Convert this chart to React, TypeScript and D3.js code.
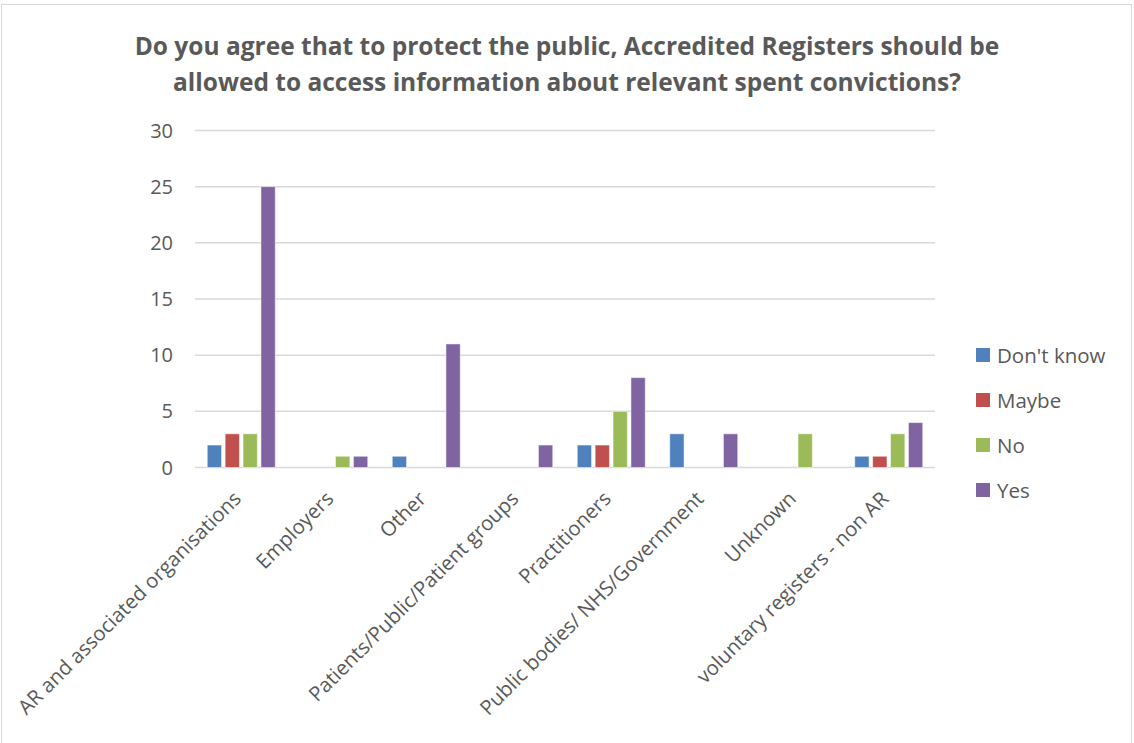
import React from "react";
import * as d3 from "d3";

const categories = [
  "AR and associated organisations",
  "Employers",
  "Other",
  "Patients/Public/Patient groups",
  "Practitioners",
  "Public bodies/ NHS/Government",
  "Unknown",
  "voluntary registers - non AR",
];
const seriesNames = ["Don't know", "Maybe", "No", "Yes"];
const dontKnow = [2, 0, 1, 0, 2, 3, 0, 1];
const maybe = [3, 0, 0, 0, 2, 0, 0, 1];
const no = [3, 1, 0, 0, 5, 0, 3, 3];
const yes = [25, 1, 11, 2, 8, 3, 0, 4];
const yTicks = [0, 5, 10, 15, 20, 25, 30];
const colors = ["#4F81BD", "#C0504D", "#9BBB59", "#8064A2"];
const titleLines = [
  "Do you agree that to protect the public, Accredited Registers should be",
  "allowed to access information about relevant spent convictions?",
];

export default function App() {
  const W = 1134, H = 743;
  const left = 195, right = 935, top = 130.5, bottom = 467.5;
  const series = [dontKnow, maybe, no, yes];
  const x = d3.scaleBand().domain(categories).range([left, right]).paddingInner(0).paddingOuter(0);
  const y = d3.scaleLinear().domain([0, 30]).range([bottom, top]);
  const inner = d3.scaleBand().domain(seriesNames).range([0, 68]).paddingInner(0.2);
  const groupOffset = (x.bandwidth() - 68) / 2;
  const font = "'Open Sans', 'Liberation Sans', sans-serif";
  return (
    <svg width={W} height={H} style={{ position: "absolute", left: 0, top: 0 }} fontFamily={font}>
      <rect x={0} y={0} width={W} height={H} fill="#fff" />
      <rect x={1.5} y={4.5} width={W - 4} height={H + 10} fill="none" stroke="#d9d9d9" strokeWidth={1} />
      {titleLines.map((t, i) => (
        <text key={i} x={567} y={55 + i * 36} textAnchor="middle" fontSize={24.5} fontWeight="bold" fill="#595959">
          {t}
        </text>
      ))}
      {yTicks.map((t) => (
        <g key={t}>
          <line x1={left} x2={right} y1={y(t)} y2={y(t)} stroke="#d9d9d9" strokeWidth={1.5} />
          <text x={173} y={y(t) + 7} textAnchor="end" fontSize={20} fill="#595959">
            {t}
          </text>
        </g>
      ))}
      {categories.map((c, ci) =>
        series.map((s, si) =>
          s[ci] > 0 ? (
            <rect
              key={c + si}
              x={(x(c) as number) + groupOffset + (inner(seriesNames[si]) as number)}
              y={y(s[ci])}
              width={inner.bandwidth()}
              height={bottom - y(s[ci])}
              fill={colors[si]}
              stroke="#ffffff"
              strokeOpacity={0.5}
              strokeWidth={1}
            />
          ) : null
        )
      )}
      {categories.map((c) => {
        const cx = (x(c) as number) + x.bandwidth() / 2 - 4;
        const cy = 495;
        return (
          <text key={c} transform={`translate(${cx},${cy}) rotate(-45)`} textAnchor="end" fontSize={20.3} fill="#595959" dy="0.35em">
            {c}
          </text>
        );
      })}
      {seriesNames.map((n, i) => (
        <g key={n} transform={`translate(976, ${355 + i * 45})`}>
          <rect x={0} y={-7} width={14} height={14} fill={colors[i]} />
          <text x={21} y={7.5} fontSize={20.5} fill="#595959">
            {n}
          </text>
        </g>
      ))}
    </svg>
  );
}
